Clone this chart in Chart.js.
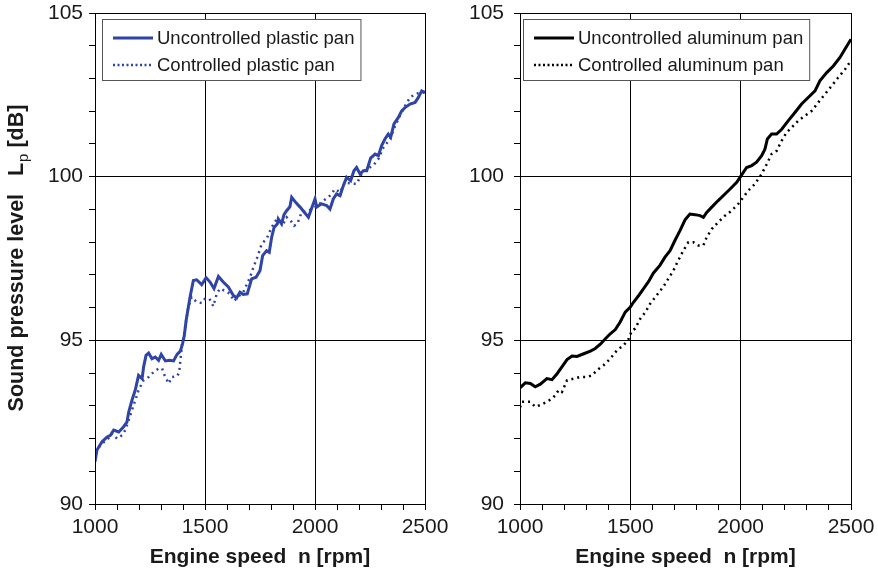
<!DOCTYPE html>
<html lang="en">
<head>
    <meta charset="UTF-8">
    <title>Sound pressure level vs engine speed</title>
    <script src="https://cdn.jsdelivr.net/npm/chart.js@4.4.1/dist/chart.umd.min.js"></script>
    <style>
        body { margin: 0; background: #fff; }
        #wrap { position: relative; width: 878px; height: 571px; }
        #wrap canvas { position: absolute; left: 0; top: 0; }
    </style>
</head>
<body>
    <div id="wrap">
        <canvas id="plastic" width="878" height="571"></canvas>
        <canvas id="aluminum" width="878" height="571"></canvas>
    </div>
    <script>
        // plastic pan (left panel)
        let plasticRpmU = [1000,1009,1032,1055,1070,1085,1108,1130,1145,1153,1168,1183,1198,1214,1221,1232,1244,1259,1274,1289,
            1301,1320,1338,1357,1373,1388,1398,1406,1414,1432,1447,1462,1485,1505,1523,1541,1561,1583,1606,1629,
            1644,1659,1674,1692,1712,1732,1750,1762,1780,1792,1803,1814,1829,1833,1848,1859,1871,1886,1894,1914,
            1932,1970,2000,2008,2030,2053,2068,2083,2098,2114,2129,2144,2162,2177,2189,2205,2220,2235,2253,2273,
            2288,2303,2318,2333,2344,2359,2379,2394,2409,2432,2455,2470,2485,2500];
        let plasticDbU = [91.29,91.65,91.9,92.05,92.1,92.26,92.2,92.36,92.5,92.8,93.17,93.48,93.93,93.83,94.19,94.54,94.61,94.44,94.49,94.39,
            94.57,94.37,94.39,94.37,94.57,94.67,94.9,95.15,95.6,96.32,96.83,96.85,96.7,96.91,96.78,96.58,96.95,96.78,96.63,96.37,
            96.3,96.47,96.4,96.42,96.88,96.93,97.13,97.59,97.74,97.69,98.15,98.45,98.56,98.71,98.56,98.84,98.96,99.08,99.37,99.2,
            99.07,98.76,99.32,99.07,99.17,99.12,99.01,99.32,99.47,99.42,99.73,99.98,99.88,100.18,100.28,100.08,100.18,100.18,100.57,100.69,
            100.64,100.95,101.15,101.3,101.2,101.61,101.81,102.01,102.11,102.22,102.27,102.42,102.62,102.57];
        let plasticRpmC = [1000,1032,1055,1077,1100,1123,1138,1153,1168,1183,1198,1221,1244,1266,1289,1305,1316,1335,1350,1373,
            1383,1388,1395,1403,1424,1439,1462,1485,1500,1520,1538,1553,1568,1588,1614,1632,1652,1674,1705,1720,
            1738,1758,1780,1803,1826,1856,1871,1889,1905,1920,1939,1970,2000,2030,2068,2091,2114,2136,2167,2189,
            2212,2235,2265,2288,2311,2341,2364,2386,2409,2432,2455,2477,2500];
        let plasticDbC = [91.6,91.85,91.95,92.15,92.0,92.1,92.26,92.56,92.87,93.17,93.48,93.78,93.88,94.03,94.14,94.14,93.93,93.68,93.88,93.9,
            94.03,94.39,94.85,95.1,96.01,96.32,96.17,96.14,96.27,96.27,96.04,96.42,96.58,96.52,96.42,96.2,96.34,96.47,96.93,97.23,
            97.54,97.95,98.1,98.45,98.71,98.56,98.76,98.66,98.5,98.56,98.91,98.96,99.07,99.22,99.42,99.62,99.52,99.83,99.78,99.78,
            100.08,100.23,100.34,100.54,100.89,101.15,101.55,101.86,102.16,102.42,102.52,102.57,102.57];

        // aluminum pan (right panel)
        let aluRpmU = [1000,1024,1047,1069,1092,1122,1145,1168,1190,1213,1236,1258,1289,1319,1341,1364,1387,1409,1432,1454,
            1477,1500,1515,1538,1560,1583,1604,1634,1657,1680,1702,1725,1748,1770,1793,1816,1831,1846,1869,1898,
            1929,1959,1982,1997,2012,2027,2050,2072,2095,2110,2121,2140,2163,2186,2216,2246,2276,2306,2337,2359,
            2390,2420,2450,2473,2500];
        let aluDbU = [93.55,93.7,93.68,93.58,93.66,93.83,93.8,93.98,94.19,94.41,94.52,94.51,94.59,94.67,94.75,94.88,95.05,95.2,95.33,95.56,
            95.86,96.02,96.17,96.37,96.58,96.8,97.05,97.29,97.54,97.74,98.05,98.35,98.68,98.86,98.84,98.81,98.76,98.91,99.07,99.27,
            99.47,99.67,99.83,99.98,100.13,100.28,100.34,100.44,100.64,100.84,101.15,101.3,101.3,101.45,101.71,101.96,102.22,102.42,102.62,102.93,
            103.18,103.38,103.64,103.9,104.2];
        let aluRpmC = [1000,1009,1047,1069,1092,1122,1145,1160,1175,1190,1213,1243,1273,1304,1326,1349,1379,1409,1440,1470,
            1493,1507,1522,1545,1568,1590,1613,1649,1672,1695,1717,1740,1763,1785,1808,1831,1846,1869,1898,1929,
            1959,1989,2012,2034,2065,2095,2118,2140,2163,2186,2208,2231,2261,2291,2322,2352,2382,2412,2442,2473,2500];
        let aluDbC = [92.95,93.12,93.12,92.97,93.02,93.12,93.22,93.32,93.48,93.42,93.78,93.83,93.88,93.88,93.93,94.09,94.24,94.44,94.7,94.85,
            95.05,95.3,95.36,95.66,95.86,96.12,96.32,96.63,96.88,97.13,97.44,97.74,98.0,98.0,97.9,97.9,98.15,98.4,98.61,98.81,
            98.96,99.17,99.37,99.57,99.78,100.08,100.38,100.69,100.79,101.1,101.35,101.5,101.71,101.86,102.01,102.27,102.52,102.77,103.03,103.28,
            103.55];

        let xMin = 1000, xMax = 2500, yMin = 90, yMax = 105;

        Chart.defaults.font.family = "'Liberation Sans', Arial, sans-serif";
        Chart.defaults.color = '#1a1a1a';

        function pts(xs, ys) {
            return xs.map((x, i) => ({x: x, y: ys[i]}));
        }

        // frame, legend box and axis titles
        const decor = {
            id: 'decor',
            afterDraw(chart, args, o) {
                const c = chart.ctx, a = chart.chartArea;
                c.save();
                c.strokeStyle = '#000';
                c.lineWidth = 1;
                c.strokeRect(Math.round(a.left) + 0.5, Math.round(a.top) + 0.5, Math.round(a.right - a.left), Math.round(a.bottom - a.top));

                // legend
                c.font = "18.5px 'Liberation Sans', Arial, sans-serif";
                let ds = chart.data.datasets;
                let tw = Math.max(...ds.map(d => c.measureText(d.label).width));
                let bx = o.legX, by = 19, bw = (o.legX + 55 + tw + 6) - bx, bh = 61;
                c.fillStyle = '#fff';
                c.fillRect(bx, by, bw, bh);
                c.strokeStyle = '#555';
                c.strokeRect(bx + 0.5, by + 0.5, bw, bh);
                ds.forEach((d, i) => {
                    let yy = 38 + i * 27;
                    c.beginPath();
                    c.strokeStyle = d.borderColor;
                    c.lineWidth = d.borderWidth;
                    c.setLineDash(d.borderDash ? [2, 2.5] : []);
                    c.moveTo(bx + 11, yy);
                    c.lineTo(bx + 51, yy);
                    c.stroke();
                    c.setLineDash([]);
                    c.fillStyle = '#1a1a1a';
                    c.textBaseline = 'middle';
                    c.textAlign = 'left';
                    c.fillText(d.label, bx + 55, yy + 1);
                });

                // x title
                c.font = "bold 21px 'Liberation Sans', Arial, sans-serif";
                c.textAlign = 'center';
                c.textBaseline = 'middle';
                c.fillText('Engine speed  n [rpm]', (a.left + a.right) / 2, 557);

                // y title with subscript p
                if (o.yTitle) {
                    let big = "bold 21.5px 'Liberation Sans', Arial, sans-serif";
                    let small = "15px 'Liberation Sans', Arial, sans-serif";
                    let p1 = 'Sound pressure level   L', p2 = 'p', p3 = ' [dB]';
                    c.font = big;
                    let w1 = c.measureText(p1).width, w3 = c.measureText(p3).width;
                    c.font = small;
                    let w2 = c.measureText(p2).width + 1;
                    let total = w1 + w2 + w3;
                    c.translate(17, 258);
                    c.rotate(-Math.PI / 2);
                    c.textAlign = 'left';
                    c.textBaseline = 'middle';
                    let sx = -total / 2;
                    c.font = big;
                    c.fillText(p1, sx, 0);
                    c.font = small;
                    c.fillText(p2, sx + w1 + 1, 7);
                    c.font = big;
                    c.fillText(p3, sx + w1 + w2, 0);
                }
                c.restore();
            }
        };

        function makeChart(id, sets, yWidth, padRight, labelPad, legX, yTitle) {
            return new Chart(document.getElementById(id), {
                type: 'line',
                data: {datasets: sets},
                plugins: [decor],
                options: {
                    responsive: false,
                    animation: false,
                    events: [],
                    layout: {padding: {left: 0, top: 13, right: padRight, bottom: 0}},
                    elements: {point: {radius: 0}, line: {tension: 0}},
                    plugins: {
                        legend: {display: false},
                        tooltip: {enabled: false},
                        decor: {legX: legX, yTitle: yTitle}
                    },
                    scales: {
                        x: {
                            type: 'linear', min: xMin, max: xMax,
                            border: {color: '#000'},
                            grid: {
                                color: c => (c.tick && c.tick.value % 500 === 0) ? '#000' : 'rgba(0,0,0,0)',
                                tickColor: '#000', tickLength: 6
                            },
                            ticks: {
                                stepSize: 100, autoSkip: false, maxRotation: 0, padding: 5,
                                font: {size: 21},
                                callback: v => v % 500 === 0 ? v : ''
                            },
                            afterFit: s => { s.height = 67; s.paddingLeft = 0; s.paddingRight = 0; }
                        },
                        y: {
                            min: yMin, max: yMax,
                            border: {color: '#000'},
                            grid: {
                                color: c => (c.tick && c.tick.value % 5 === 0) ? '#000' : 'rgba(0,0,0,0)',
                                tickColor: '#000', tickLength: 6
                            },
                            ticks: {
                                stepSize: 1, autoSkip: false, padding: labelPad,
                                font: {size: 21},
                                callback: v => v % 5 === 0 ? v : ''
                            },
                            afterFit: s => { s.width = yWidth; s.paddingTop = 0; s.paddingBottom = 0; }
                        }
                    }
                }
            });
        }

        let blue = '#2f44a6';
        makeChart('plastic', [
            {label: 'Uncontrolled plastic pan', data: pts(plasticRpmU, plasticDbU), borderColor: blue, borderWidth: 3},
            {label: 'Controlled plastic pan', data: pts(plasticRpmC, plasticDbC), borderColor: blue, borderWidth: 2.5, borderDash: [2, 4]}
        ], 95, 878 - 425, 6, 102, true);

        makeChart('aluminum', [
            {label: 'Uncontrolled aluminum pan', data: pts(aluRpmU, aluDbU), borderColor: '#000', borderWidth: 3},
            {label: 'Controlled aluminum pan', data: pts(aluRpmC, aluDbC), borderColor: '#000', borderWidth: 2.5, borderDash: [2, 4]}
        ], 520, 878 - 851, 10, 523, false);
    </script>
</body>
</html>
